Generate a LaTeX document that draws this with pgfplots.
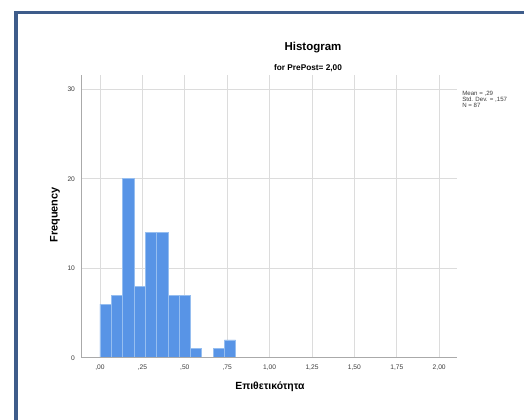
\documentclass[border=0pt]{standalone}
\usepackage{fontspec}
\setmainfont{Liberation Sans}
\usepackage{pgfplots}
\pgfplotsset{compat=1.18}
\definecolor{barblue}{RGB}{88,148,230}
\definecolor{baredge}{RGB}{150,190,240}
\definecolor{framebl}{RGB}{62,92,138}
\definecolor{gridgr}{RGB}{220,220,220}
\definecolor{axisgr}{RGB}{170,170,170}
\definecolor{txtgr}{RGB}{60,60,60}
\begin{document}
\begin{tikzpicture}
% page 524x420 px, 1px = 0.75pt
\path[use as bounding box] (0pt,0pt) rectangle (393pt,315pt);
\fill[white] (0pt,0pt) rectangle (393pt,315pt);
% blue frame
\fill[framebl] (10.5pt,0pt) rectangle (13.7pt,306.75pt);
\fill[framebl] (10.5pt,304.5pt) rectangle (393pt,306.75pt);
\begin{axis}[
    at={(60.75pt,46.7pt)}, anchor=south west,
    scale only axis, width=282pt, height=212pt,
    xmin=-0.112, xmax=2.105, ymin=0, ymax=31.59,
    axis lines*=left,
    axis line style={draw=axisgr, line width=0.6pt, -},
    xtick={0,0.25,0.5,0.75,1,1.25,1.5,1.75,2},
    xticklabels={{,00},{,25},{,50},{,75},{1,00},{1,25},{1,50},{1,75},{2,00}},
    ytick={0,10,20,30},
    yticklabels={0,10,20,30},
    xmajorgrids, ymajorgrids,
    grid style={draw=gridgr, line width=0.6pt},
    major tick length=0pt,
    tick label style={font=\fontsize{5}{6}\selectfont, text=txtgr},
    xticklabel style={yshift=-2pt},
    yticklabel style={xshift=-1pt},
]
\addplot[ybar interval, fill=barblue, draw=baredge, line width=0.5pt] coordinates {
    (0.000000, 6)
    (0.066667, 7)
    (0.133333, 20)
    (0.200000, 8)
    (0.266667, 14)
    (0.333333, 14)
    (0.400000, 7)
    (0.466667, 7)
    (0.533333, 1)
    (0.600000, 1)
};
\addplot[ybar interval, fill=barblue, draw=baredge, line width=0.5pt] coordinates {
    (0.666667, 1)
    (0.733333, 2)
    (0.800000, 2)
};
% redraw the x axis line above the bars
\draw[axisgr, line width=0.6pt] (rel axis cs:0,0) -- (rel axis cs:1,0);
\end{axis}
\node[font=\bfseries\fontsize{8.6}{10}\selectfont] at (234.75pt,279pt) {Histogram};
\node[font=\bfseries\fontsize{6.2}{7}\selectfont] at (231pt,264pt) {for PrePost= 2,00};
\node[font=\bfseries\fontsize{8.2}{10}\selectfont, rotate=90] at (41.25pt,153.75pt) {Frequency};
\node[font=\bfseries\fontsize{7.8}{9}\selectfont] at (202.5pt,24.75pt) {Επιθετικότητα};
\node[font=\fontsize{4.6}{4.3}\selectfont, text=txtgr, anchor=north west, align=left, inner sep=0pt]
    at (346.5pt,246.5pt) {Mean = ,29\\Std. Dev. = ,157\\N = 87};
\end{tikzpicture}
\end{document}
